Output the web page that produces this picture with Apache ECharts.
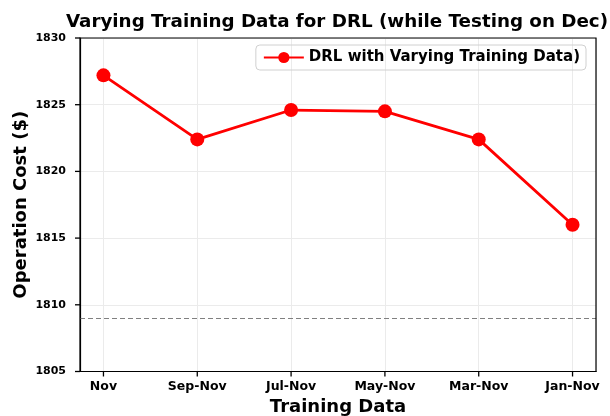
<!DOCTYPE html>
<html>
<head>
<meta charset="utf-8">
<script src="https://cdn.jsdelivr.net/npm/echarts@6/dist/echarts.min.js"></script>
<style>
  html, body { margin: 0; padding: 0; background: #fff; }
  #chart { width: 610px; height: 416px; }
</style>
</head>
<body>
<div id="chart"></div>
<script>
const categories = ['Nov', 'Sep-Nov', 'Jul-Nov', 'May-Nov', 'Mar-Nov', 'Jan-Nov'];
const drlCost = [1827.2, 1822.4, 1824.6, 1824.5, 1822.4, 1816.0];
const baseline = 1809.0;
const yTicks = [1805, 1810, 1815, 1820, 1825, 1830];

const font = 'DejaVu Sans';
const chart = echarts.init(document.getElementById('chart'));

const points = drlCost.map((v, i) => [i, v]);
const xIdx = categories.map((c, i) => i);
const xMin = -0.25;
const xMax = 5.25;
const yMin = yTicks[0];
const yMax = yTicks[yTicks.length - 1];

const options = {
  animation: false,
  textStyle: { fontFamily: font },
  title: {
    text: 'Varying Training Data for DRL (while Testing on Dec)',
    left: 332,
    textAlign: 'center',
    top: 8,
    textStyle: { fontFamily: font, fontWeight: 'bold', fontSize: 18.3, color: '#000' },
  },
  legend: {
    right: 24,
    top: 45,
    padding: [5, 6, 5, 7],
    borderColor: '#d0d0d0',
    borderWidth: 1,
    borderRadius: 4,
    itemWidth: 40,
    itemHeight: 14,
    textStyle: { fontFamily: font, fontWeight: 'bold', fontSize: 15, color: '#000' },
    data: ['DRL with Varying Training Data)'],
  },
  grid: { left: 80, right: 14, top: 38, bottom: 44.5, containLabel: false, outerBoundsMode: 'none' },
  xAxis: {
    type: 'value',
    min: xMin,
    max: xMax,
    name: 'Training Data',
    nameLocation: 'middle',
    nameGap: 27,
    nameMoveOverlap: false,
    nameTextStyle: { fontFamily: font, fontWeight: 'bold', fontSize: 18, color: '#000' },
    axisLine: { show: true, onZero: false, lineStyle: { color: '#000', width: 1.2 } },
    axisTick: { show: false },
    axisLabel: {
      customValues: xIdx,
      margin: 9,
      fontFamily: font, fontWeight: 'bold', fontSize: 12.5, color: '#000',
      formatter: (v) => categories[Math.round(v)],
    },
    splitLine: { show: true, lineStyle: { color: '#ebebeb', width: 1 } },
  },
  yAxis: {
    type: 'value',
    min: yMin,
    max: yMax,
    interval: 5,
    name: 'Operation Cost ($)',
    nameLocation: 'middle',
    nameGap: 50,
    nameMoveOverlap: false,
    nameTextStyle: { fontFamily: font, fontWeight: 'bold', fontSize: 18, color: '#000' },
    axisLine: { show: true, onZero: false, lineStyle: { color: '#000', width: 1.2 } },
    axisTick: { show: false },
    axisLabel: {
      margin: 14,
      fontFamily: font, fontWeight: 'bold', fontSize: 11, color: '#000',
      formatter: (v) => (yTicks.includes(v) ? String(v) : ''),
    },
    splitLine: { show: true, lineStyle: { color: '#ebebeb', width: 1 } },
  },
  series: [
    {
      name: 'DRL with Varying Training Data)',
      type: 'line',
      data: points,
      color: '#ff0000',
      symbol: 'circle',
      symbolSize: 14,
      lineStyle: { width: 2.8, color: '#ff0000' },
      itemStyle: { color: '#ff0000' },
      z: 5,
      markLine: {
        silent: true,
        symbol: 'none',
        label: { show: false },
        lineStyle: { color: '#808080', type: [5, 3], width: 1.2 },
        data: [{ yAxis: baseline }],
      },
    },
  ],
};

chart.setOption(options);

// frame and outward tick marks, positioned through the chart's own scales
const tl = chart.convertToPixel({ gridIndex: 0 }, [xMin, yMax]);
const br = chart.convertToPixel({ gridIndex: 0 }, [xMax, yMin]);
const marks = [
  {
    type: 'rect',
    shape: { x: tl[0], y: tl[1], width: br[0] - tl[0], height: br[1] - tl[1] },
    style: { fill: 'none', stroke: '#000', lineWidth: 1.2 },
    silent: true,
    z: 10,
  },
];
yTicks.forEach((v) => {
  const p = chart.convertToPixel({ gridIndex: 0 }, [xMin, v]);
  marks.push({
    type: 'line',
    shape: { x1: p[0] - 5, y1: p[1], x2: p[0], y2: p[1] },
    style: { stroke: '#000', lineWidth: 1.3 },
    silent: true,
    z: 10,
  });
});
xIdx.forEach((i) => {
  const p = chart.convertToPixel({ gridIndex: 0 }, [i, yMin]);
  marks.push({
    type: 'line',
    shape: { x1: p[0], y1: p[1], x2: p[0], y2: p[1] + 5 },
    style: { stroke: '#000', lineWidth: 1.3 },
    silent: true,
    z: 10,
  });
});
chart.setOption({ graphic: marks });
</script>
</body>
</html>
